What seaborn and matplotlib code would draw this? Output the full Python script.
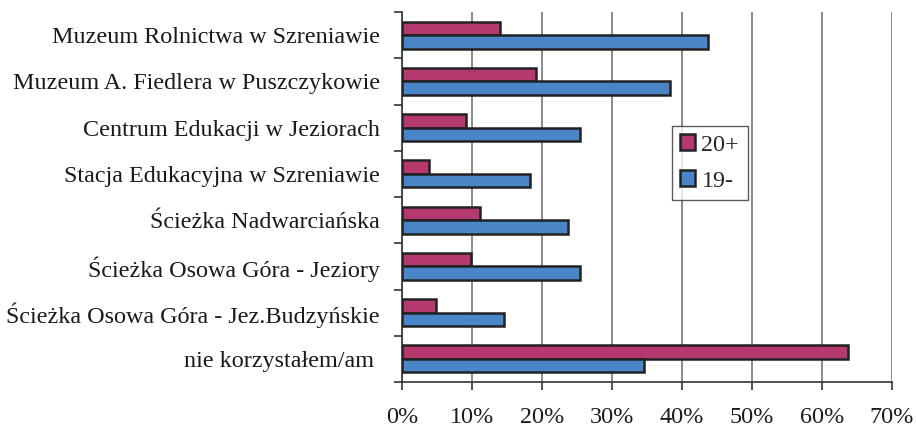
import matplotlib
matplotlib.use("Agg")
import matplotlib.pyplot as plt
import seaborn as sns
import pandas as pd
import numpy as np
from matplotlib.ticker import FixedLocator, FuncFormatter

categories = [
    "Muzeum Rolnictwa w Szreniawie",
    "Muzeum A. Fiedlera w Puszczykowie",
    "Centrum Edukacji w Jeziorach",
    "Stacja Edukacyjna w Szreniawie",
    "Ścieżka Nadwarciańska",
    "Ścieżka Osowa Góra - Jeziory",
    "Ścieżka Osowa Góra - Jez.Budzyńskie",
    "nie korzystałem/am ",
]
series_names = ["20+", "19-"]
values_20plus = [14.0, 19.2, 9.1, 3.8, 11.2, 9.8, 4.9, 63.7]
values_19minus = [43.7, 38.3, 25.4, 18.3, 23.7, 25.4, 14.6, 34.5]
xticks = [0, 10, 20, 30, 40, 50, 60, 70]

df = pd.DataFrame({
    "kategoria": categories * 2,
    "grupa": [series_names[0]] * len(categories) + [series_names[1]] * len(categories),
    "procent": values_20plus + values_19minus,
})

sns.set_theme(style="white")
plt.rcParams["font.family"] = ["Liberation Serif", "DejaVu Serif"]

FS = 17.4
fig = plt.figure(figsize=(9.16, 4.30), dpi=100)
ax = fig.add_axes([402 / 916, 1 - 382 / 430, 490 / 916, 370 / 430])

palette = {"20+": "#B5396F", "19-": "#4A86C7"}
sns.barplot(data=df, y="kategoria", x="procent", hue="grupa", order=categories,
            hue_order=series_names, palette=palette, orient="h", width=0.58,
            edgecolor="#222222", linewidth=1.8, saturation=1, ax=ax, zorder=3)

ax.set_xlim(0, 70)
ax.set_ylim(len(categories) - 0.5, -0.5)
ax.set_xticks(xticks)
ax.xaxis.set_major_formatter(FuncFormatter(lambda v, p: f"{v:.0f}%"))
ax.grid(axis="x", color="#777777", linewidth=1.2, zorder=0)
ax.set_axisbelow(True)
ax.set_xlabel("")
ax.set_ylabel("")

for s in ["top", "right"]:
    ax.spines[s].set_visible(False)
for s in ["left", "bottom"]:
    ax.spines[s].set_color("#333333")
    ax.spines[s].set_linewidth(1.2)

ax.tick_params(axis="y", which="major", length=0, pad=16, labelsize=FS, colors="#1a1a1a")
ax.yaxis.set_minor_locator(FixedLocator(np.arange(-0.5, len(categories), 1.0)))
ax.tick_params(axis="y", which="minor", length=6, width=1.2, color="#333333", direction="out")
ax.tick_params(axis="x", which="major", length=6, width=1.2, color="#333333",
               direction="out", pad=12, labelsize=FS, labelcolor="#1a1a1a")
ax.tick_params(left=True, bottom=True, which="both")

handles, labels = ax.get_legend_handles_labels()
leg = ax.legend(handles, labels, loc="upper left", bbox_to_anchor=(0.551, 0.692),
                fontsize=FS, frameon=True, fancybox=False, shadow=False,
                handlelength=0.62, handleheight=0.62, handletextpad=0.25,
                labelspacing=0.6, borderpad=0.35, borderaxespad=0)
leg.get_frame().set_edgecolor("#333333")
leg.get_frame().set_linewidth(1.0)
leg.set_zorder(5)

fig.savefig("out.png", dpi=100)
